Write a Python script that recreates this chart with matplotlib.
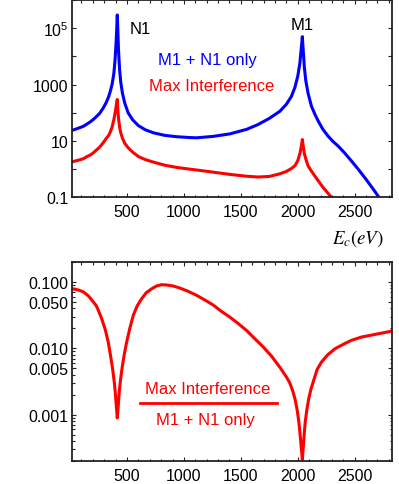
import numpy as np
import matplotlib
matplotlib.use("Agg")
import matplotlib.pyplot as plt
from matplotlib.ticker import FixedLocator, FixedFormatter, MultipleLocator, LogLocator, NullFormatter

plt.rcParams['font.family'] = ['Liberation Sans', 'DejaVu Sans']
plt.rcParams['mathtext.fontset'] = 'custom'
plt.rcParams['mathtext.rm'] = 'Liberation Sans'
plt.rcParams['mathtext.it'] = 'Liberation Sans:italic'

# ---- data ----
E_blue = [23, 70, 117, 150, 180, 205, 230, 260, 292, 320, 340, 355, 370, 385, 395, 404, 410, 415,
          420, 426, 435, 445, 460, 480, 510, 550, 600, 660, 731, 830, 936, 1050, 1111, 1257, 1404,
          1550, 1650, 1750, 1842, 1900, 1944, 1975, 2000, 2018, 2030, 2040, 2048, 2058, 2070, 2090,
          2120, 2150, 2178, 2220, 2266, 2310, 2354, 2410, 2471, 2530, 2588, 2640, 2675, 2713, 2740]
blue = [24, 28, 33, 40, 48, 58, 72, 95, 148, 240, 380, 600, 1050, 2500, 7100, 28000, 89000, 295000,
        79000, 16000, 3500, 1260, 500, 224, 100, 56, 35, 25, 19.5, 15.8, 14.1, 13.2, 12.9, 14.5,
        17.8, 25.7, 38, 63, 112, 200, 380, 795, 2000, 5600, 17800, 50000, 15800, 4000, 1410, 500,
        170, 89, 52, 26, 14.8, 9.5, 6.6, 3.8, 1.95, 1.0, 0.50, 0.26, 0.166, 0.10, 0.063]

E_red = [23, 70, 117, 150, 180, 205, 230, 260, 292, 320, 340, 355, 370, 385, 395, 404, 410, 415,
         420, 426, 435, 445, 460, 480, 510, 550, 600, 660, 731, 830, 936, 1050, 1150, 1257, 1404,
         1550, 1650, 1750, 1842, 1900, 1944, 1975, 2000, 2018, 2032, 2040, 2048, 2058, 2075, 2091,
         2120, 2149, 2185, 2222, 2260, 2295, 2320]
red = [1.84, 2.06, 2.34, 2.8, 3.2, 3.8, 4.7, 6.0, 8.7, 12.6, 15.8, 21.4, 31.6, 57.5, 95, 158, 224,
       295, 126, 63, 31.6, 20, 12.6, 8.3, 5.75, 4.0, 2.8, 2.19, 1.78, 1.38, 1.15, 1.0, 0.89, 0.78,
       0.65, 0.56, 0.525, 0.55, 0.68, 0.83, 1.05, 1.32, 2.0, 3.5, 6.6, 11.2, 6.6, 3.5, 2.0, 1.29,
       0.85, 0.575, 0.36, 0.224, 0.148, 0.10, 0.076]

E_ratio = [23, 70, 117, 160, 205, 230, 250, 278, 310, 336, 355, 374, 388, 397, 406, 415, 424, 432,
           443, 456, 475, 497, 525, 556, 590, 629, 670, 717, 760, 804, 850, 906, 965, 1040, 1111,
           1180, 1257, 1330, 1404, 1480, 1550, 1620, 1696, 1770, 1842, 1900, 1930, 1955, 1975,
           1995, 2010, 2022, 2032, 2040, 2048, 2056, 2066, 2080, 2095, 2115, 2140, 2170, 2208,
           2260, 2325, 2400, 2471, 2560, 2646, 2740, 2827]
ratio = [0.079, 0.076, 0.071, 0.062, 0.050, 0.044, 0.037, 0.028, 0.019, 0.0123, 0.0079, 0.0049,
         0.00316, 0.0022, 0.0014, 0.00089, 0.0014, 0.0022, 0.0033, 0.0049, 0.0079, 0.0123, 0.020,
         0.0316, 0.0437, 0.056, 0.069, 0.079, 0.087, 0.091, 0.090, 0.087, 0.081, 0.072, 0.063,
         0.054, 0.045, 0.036, 0.0295, 0.0234, 0.0186, 0.0141, 0.0105, 0.0076, 0.0052, 0.0037,
         0.0030, 0.0023, 0.00174, 0.00117, 0.00076, 0.00047, 0.0003, 0.00021, 0.00032, 0.0005,
         0.00079, 0.0012, 0.0017, 0.0024, 0.0033, 0.0048, 0.0062, 0.0079, 0.0098, 0.0115, 0.0132,
         0.0148, 0.0158, 0.017, 0.0182]

x_ticks = [500, 1000, 1500, 2000, 2500]
top_y_major = [0.1, 1, 10, 100, 1000, 1e4, 1e5, 1e6]
top_y_labels = ['0.1', '', '10', '', '1000', '', '$10^5$', '']
bot_y_major = [0.001, 0.005, 0.01, 0.05, 0.1]
bot_y_labels = ['0.001', '0.005', '0.010', '0.050', '0.100']

BLUE = '#0000ff'
RED = '#ff0000'
FRAME = '#222222'

fig = plt.figure(figsize=(3.99, 4.85), dpi=100)
ax1 = fig.add_axes([0.1812, 0.5911, 0.802, 0.4069])
ax2 = fig.add_axes([0.1812, 0.0474, 0.802, 0.4103])

for ax in (ax1, ax2):
    ax.set_xlim(20, 2830)
    ax.set_yscale('log')
    for s in ax.spines.values():
        s.set_linewidth(1.3)
        s.set_color(FRAME)
    ax.xaxis.set_major_locator(FixedLocator(x_ticks))
    ax.xaxis.set_minor_locator(MultipleLocator(100))
    ax.tick_params(which='both', direction='in', top=True, right=True, width=0.8, color=FRAME,
                   labelsize=11.5)
    ax.tick_params(which='major', length=3.0)
    ax.tick_params(which='minor', length=1.8)
    ax.tick_params(axis='x', pad=5)
    ax.tick_params(axis='y', pad=3)

# top panel
ax1.plot(E_blue, blue, color=BLUE, lw=2.2, solid_joinstyle='round')
ax1.plot(E_red, red, color=RED, lw=2.2, solid_joinstyle='round')
ax1.set_ylim(0.1, 1e6)
ax1.yaxis.set_major_locator(FixedLocator(top_y_major))
ax1.yaxis.set_major_formatter(FixedFormatter(top_y_labels))
ax1.yaxis.set_minor_locator(FixedLocator([]))

ax1.text(614, 1e5, 'N1', fontsize=12, color='black', ha='center', va='center')
ax1.text(2040, 1.3e5, 'M1', fontsize=12, color='black', ha='center', va='center')
ax1.text(1206, 7.6e3, 'M1 + N1 only', fontsize=12, color=BLUE, ha='center', va='center')
ax1.text(1241, 9.1e2, 'Max Interference', fontsize=12, color=RED, ha='center', va='center')

fig.text(0.897, 0.509, r'$E_c(eV)$', fontsize=13.5, ha='center', va='center', math_fontfamily='stix')

# bottom panel
ax2.plot(E_ratio, ratio, color=RED, lw=2.2, solid_joinstyle='round')
ax2.set_ylim(2e-4, 0.2)
ax2.yaxis.set_major_locator(FixedLocator(bot_y_major))
ax2.yaxis.set_major_formatter(FixedFormatter(bot_y_labels))
ax2.yaxis.set_minor_locator(LogLocator(base=10, subs=np.arange(1, 10)))
ax2.yaxis.set_minor_formatter(NullFormatter())

ax2.text(0.424, 0.362, 'Max Interference', transform=ax2.transAxes, fontsize=12, color=RED,
         ha='center', va='center')
ax2.plot([0.2116, 0.639], [0.29, 0.29], transform=ax2.transAxes, color=RED, lw=2.0)
ax2.text(0.415, 0.211, 'M1 + N1 only', transform=ax2.transAxes, fontsize=12, color=RED,
         ha='center', va='center')

fig.savefig('out.png', dpi=100)
